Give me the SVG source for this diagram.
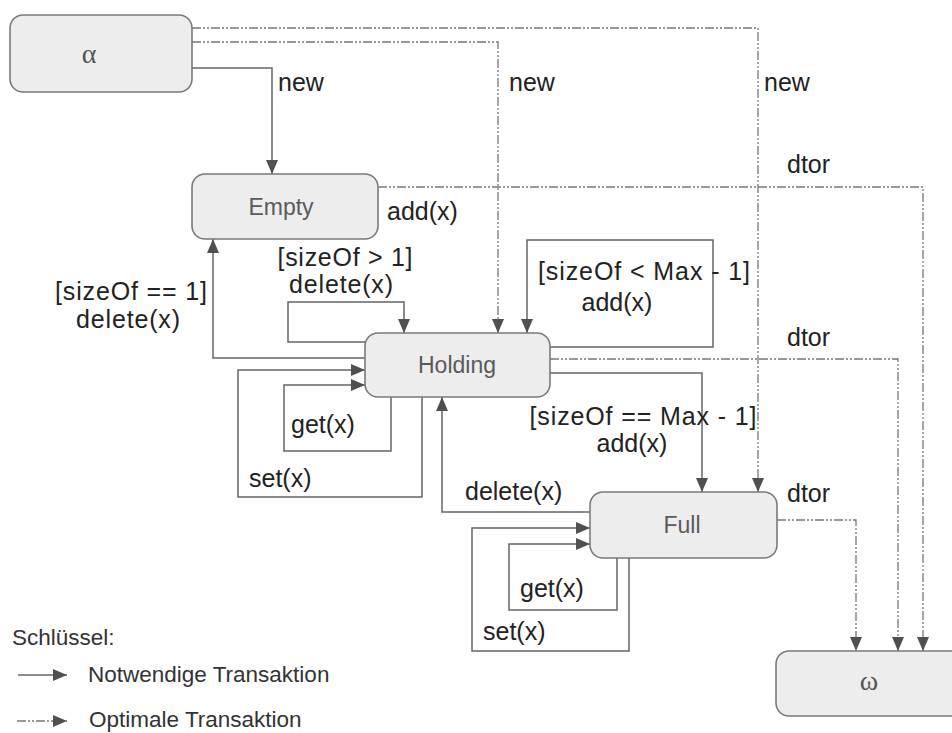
<svg xmlns="http://www.w3.org/2000/svg" width="952" height="733" viewBox="0 0 952 733">
  <defs>
    <style>
      .node { fill: #ededed; stroke: #7a7a7a; stroke-width: 1.6; }
      .ntext { font-family: "Liberation Sans", Arial, sans-serif; font-size: 23px; fill: #5a5a5a; text-anchor: middle; }
      .greek { font-family: "Liberation Serif", "DejaVu Serif", serif; font-size: 28px; fill: #555; text-anchor: middle; }
      .lbl { font-family: "Liberation Sans", Arial, sans-serif; font-size: 25px; fill: #222; }
      .leg { font-family: "Liberation Sans", Arial, sans-serif; font-size: 22.5px; fill: #333; }
      .req { fill: none; stroke: #666; stroke-width: 1.5; }
      .opt { fill: none; stroke: #777; stroke-width: 1.3; stroke-dasharray: 9 2 2 2 2 2; }
    </style>
    <marker id="arrow" viewBox="0 0 14 12" refX="14" refY="6" markerWidth="14" markerHeight="12" markerUnits="userSpaceOnUse" orient="auto">
      <path d="M0,0 L14,6 L0,12 z" fill="#505050"/>
    </marker>
  </defs>

  <rect width="952" height="733" fill="#ffffff"/>

  <!-- transitions -->
  <g id="connectors">
    <!-- required transitions -->
    <polyline class="req" points="192,68 272,68 272,174" marker-end="url(#arrow)"/>
    <polyline class="req" points="365,358 213,358 213,239" marker-end="url(#arrow)"/>
    <polyline class="req" points="365,342 288,342 288,302 404,302 404,333" marker-end="url(#arrow)"/>
    <polyline class="req" points="550,347 713,347 713,240 527,240 527,333" marker-end="url(#arrow)"/>
    <polyline class="req" points="550,373 702,373 702,492" marker-end="url(#arrow)"/>
    <polyline class="req" points="590,512 442,512 442,397" marker-end="url(#arrow)"/>
    <polyline class="req" points="391,397 391,451 284,451 284,385 365,385" marker-end="url(#arrow)"/>
    <polyline class="req" points="422,397 422,497 238,497 238,370 365,370" marker-end="url(#arrow)"/>
    <polyline class="req" points="617,558 617,610 509,610 509,544 590,544" marker-end="url(#arrow)"/>
    <polyline class="req" points="629,558 629,651 472,651 472,528 590,528" marker-end="url(#arrow)"/>
    <!-- optional transitions -->
    <polyline class="opt" points="192,42 498,42 498,333" marker-end="url(#arrow)"/>
    <polyline class="opt" points="192,28 758,28 758,492" marker-end="url(#arrow)"/>
    <polyline class="opt" points="378,187 923,187 923,651" marker-end="url(#arrow)"/>
    <polyline class="opt" points="550,359 898,359 898,651" marker-end="url(#arrow)"/>
    <polyline class="opt" points="777,520 856,520 856,651" marker-end="url(#arrow)"/>
  </g>

  <!-- states -->
  <g id="alpha">
    <rect class="node" x="10" y="15" width="182" height="77" rx="13"/>
    <text class="greek" x="89" y="63">α</text>
  </g>
  <g id="empty">
    <rect class="node" x="192" y="174" width="186" height="65" rx="13"/>
    <text class="ntext" x="281" y="215">Empty</text>
  </g>
  <g id="holding">
    <rect class="node" x="365" y="333" width="185" height="64" rx="13"/>
    <text class="ntext" x="457" y="373">Holding</text>
  </g>
  <g id="full">
    <rect class="node" x="590" y="492" width="187" height="66" rx="13"/>
    <text class="ntext" x="682" y="533">Full</text>
  </g>
  <g id="omega">
    <rect class="node" x="776" y="651" width="190" height="65" rx="13"/>
    <text class="greek" x="869" y="690" font-size="24">ω</text>
  </g>

  <!-- transition labels -->
  <g id="labels">
    <text class="lbl" x="278" y="91">new</text>
    <text class="lbl" x="509" y="91">new</text>
    <text class="lbl" x="764" y="91">new</text>
    <text class="lbl" x="787" y="173">dtor</text>
    <text class="lbl" x="387" y="220">add(x)</text>
    <text class="lbl" x="345" y="266" text-anchor="middle" textLength="135">[sizeOf &gt; 1]</text>
    <text class="lbl" x="341" y="293" text-anchor="middle" textLength="104">delete(x)</text>
    <text class="lbl" x="131" y="300" text-anchor="middle" textLength="152">[sizeOf == 1]</text>
    <text class="lbl" x="128" y="328" text-anchor="middle" textLength="104">delete(x)</text>
    <text class="lbl" x="644" y="280" text-anchor="middle" textLength="212">[sizeOf &lt; Max - 1]</text>
    <text class="lbl" x="617" y="311" text-anchor="middle">add(x)</text>
    <text class="lbl" x="787" y="346">dtor</text>
    <text class="lbl" x="291" y="433">get(x)</text>
    <text class="lbl" x="249" y="487">set(x)</text>
    <text class="lbl" x="643" y="425" text-anchor="middle" textLength="227">[sizeOf == Max - 1]</text>
    <text class="lbl" x="632" y="452" text-anchor="middle">add(x)</text>
    <text class="lbl" x="465" y="500">delete(x)</text>
    <text class="lbl" x="787" y="502">dtor</text>
    <text class="lbl" x="520" y="597">get(x)</text>
    <text class="lbl" x="483" y="640">set(x)</text>
  </g>

  <!-- key -->
  <g id="legend">
    <text class="leg" x="12" y="645">Schlüssel:</text>
    <line class="req" x1="18" y1="675" x2="67" y2="675" marker-end="url(#arrow)"/>
    <text class="leg" x="88" y="682">Notwendige Transaktion</text>
    <line class="opt" x1="17" y1="721" x2="67" y2="721" marker-end="url(#arrow)"/>
    <text class="leg" x="89" y="727">Optimale Transaktion</text>
  </g>
</svg>
